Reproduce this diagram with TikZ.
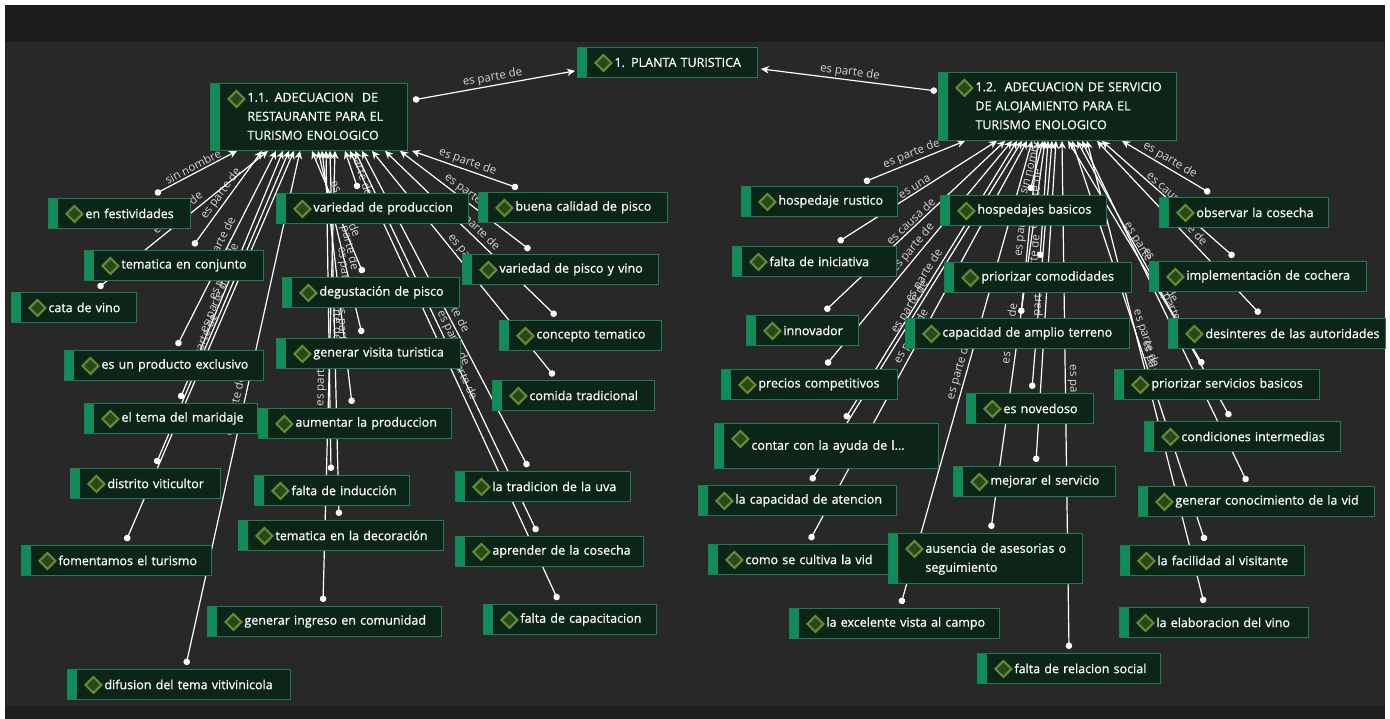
\documentclass[tikz,border=0pt]{standalone}
\usepackage{fontspec}
\setmainfont{Open Sans}
\newfontfamily\ideafont{Open Sans}[FakeBold=0.6]
\usetikzlibrary{arrows.meta}
\pgfdeclarelayer{back}
\pgfdeclarelayer{links}
\pgfsetlayers{back,links,main}
\definecolor{bgmain}{HTML}{282828}
\definecolor{bgband}{HTML}{1C1C1C}
\definecolor{bgfoot}{HTML}{1F1F1F}
\definecolor{ideafill}{HTML}{0D2418}
\definecolor{ideaedge}{HTML}{1E7F4E}
\definecolor{ideabar}{HTML}{0F8C5A}
\definecolor{diaedge}{HTML}{5E8F34}
\definecolor{diafill}{HTML}{2C461A}
\definecolor{lblgray}{HTML}{D6D6D6}
\newcommand{\itm}[1]{\mbox{\hspace{33pt}#1}}
\newcommand{\itmm}[1]{\mbox{\hspace{33pt}\begin{tabular}[t]{@{}l@{}}#1\end{tabular}}}
\tikzset{
idea/.style={
  rectangle,
  anchor=north west,
  draw=ideaedge,
  line width=0.9pt,
  fill=ideafill,
  text=white,
  font=\ideafont\fontsize{12.5}{19}\selectfont,
  inner xsep=4pt,
  inner ysep=4pt,
  minimum height=30pt,
  align=left,
  path picture={
    \fill[ideabar] (path picture bounding box.south west) rectangle ([xshift=10pt]path picture bounding box.north west);
    \draw[draw=diaedge,fill=diafill,line width=2pt] ([shift={(26pt,-15.5pt)}]path picture bounding box.north west)
      +(-8pt,0pt) -- +(0pt,8pt) -- +(8pt,0pt) -- +(0pt,-8pt) -- cycle;
    }
  },
bw/.code={\pgfmathsetmacro\tw{#1-8}\edef\next{\noexpand\pgfkeysalso{text width=\tw pt}}\next},
rel/.style={draw=white,line width=1.2pt,{Circle[length=6.5pt]}-{Stealth[length=8pt,width=7.5pt]}},
lbl/.style={midway,above,sloped,font=\fontsize{11.5}{13}\selectfont,text=lblgray,inner sep=1.5pt}
}
\begin{document}
\begin{tikzpicture}[x=1pt,y=-1pt]
\useasboundingbox (0,0) rectangle (1390,719);
\begin{pgfonlayer}{back}
\fill[white] (0,0) rectangle (1390,719);
\fill[bgmain] (5,5) rectangle (1385,719);
\fill[bgband] (5,5) rectangle (1385,42);
\fill[bgfoot] (5,706) rectangle (1385,719);
\end{pgfonlayer}
% top
\node[idea,bw=180] (root) at (577,47) {\itm{1. PLANTA TURISTICA}};
\node[idea,bw=197,minimum height=67pt] (resta) at (210,83) {\itmm{1.1. ADECUACION\ \ DE\\RESTAURANTE PARA EL\\TURISMO ENOLOGICO}};
\node[idea,bw=238,minimum height=68pt] (aloja) at (938,72) {\itmm{1.2.\ \ ADECUACION DE SERVICIO\\DE ALOJAMIENTO PARA EL\\TURISMO ENOLOGICO}};
% restaurante
\node[idea,bw=142] (fest) at (48,198) {\itm{en festividades}};
\node[idea,bw=179] (tconj) at (84,250) {\itm{tematica en conjunto}};
\node[idea,bw=125] (cata) at (11,292) {\itm{cata de vino}};
\node[idea,bw=199] (exclu) at (64,350) {\itm{es un producto exclusivo}};
\node[idea,bw=173] (marid) at (84,403) {\itm{el tema del maridaje}};
\node[idea,bw=150] (distr) at (70,468) {\itm{distrito viticultor}};
\node[idea,bw=190] (fomen) at (21,545) {\itm{fomentamos el turismo}};
\node[idea,bw=223] (difus) at (67,669) {\itm{difusion del tema vitivinicola}};
\node[idea,bw=192] (vprod) at (276,193) {\itm{variedad de produccion}};
\node[idea,bw=177] (degus) at (282,277) {\itm{degustación de pisco}};
\node[idea,bw=184] (gvisit) at (276,338) {\itm{generar visita turistica}};
\node[idea,bw=193] (aprod) at (258,408) {\itm{aumentar la produccion}};
\node[idea,bw=155] (induc) at (254,475) {\itm{falta de inducción}};
\node[idea,bw=205] (tdeco) at (238,520) {\itm{tematica en la decoración}};
\node[idea,bw=234] (ingreso) at (207,606) {\itm{generar ingreso en comunidad}};
\node[idea,bw=189] (bcalid) at (478,192) {\itm{buena calidad de pisco}};
\node[idea,bw=196] (vpisco) at (462,254) {\itm{variedad de pisco y vino}};
\node[idea,bw=162] (ctema) at (499,320) {\itm{concepto tematico}};
\node[idea,bw=162] (comida) at (492,380) {\itm{comida tradicional}};
\node[idea,bw=175] (tuva) at (455,471) {\itm{la tradicion de la uva}};
\node[idea,bw=188] (acosecha) at (455,536) {\itm{aprender de la cosecha}};
\node[idea,bw=173] (fcapac) at (483,604) {\itm{falta de capacitacion}};
% alojamiento
\node[idea,bw=156] (hrust) at (741,186) {\itm{hospedaje rustico}};
\node[idea,bw=164] (finic) at (732,246) {\itm{falta de iniciativa}};
\node[idea,bw=112] (innov) at (746,315) {\itm{innovador}};
\node[idea,bw=176] (precios) at (721,369) {\itm{precios competitivos}};
\node[idea,bw=224,minimum height=45pt] (ayuda) at (714,423) {\itmm{contar con la ayuda de l...\\ }};
\node[idea,bw=198] (atenc) at (698,485) {\itm{la capacidad de atencion}};
\node[idea,bw=180] (cultiva) at (708,544) {\itm{como se cultiva la vid}};
\node[idea,bw=166] (hbasic) at (940,195) {\itm{hospedajes basicos}};
\node[idea,bw=187] (pcomod) at (944,262) {\itm{priorizar comodidades}};
\node[idea,bw=224] (terreno) at (905,318) {\itm{capacidad de amplio terreno}};
\node[idea,bw=127] (noved) at (966,393) {\itm{es novedoso}};
\node[idea,bw=162] (mserv) at (953,466) {\itm{mejorar el servicio}};
\node[idea,bw=194,minimum height=50pt] (asesor) at (888,533) {\itmm{ausencia de asesorias o\\seguimiento}};
\node[idea,bw=210] (vista) at (789,608) {\itm{la excelente vista al campo}};
\node[idea,bw=183] (rsocial) at (977,653) {\itm{falta de relacion social}};
\node[idea,bw=169] (obscos) at (1159,197) {\itm{observar la cosecha}};
\node[idea,bw=217] (cochera) at (1149,261) {\itm{implementación de cochera}};
\node[idea,bw=217] (desint) at (1168,318) {\itm{desinteres de las autoridades}};
\node[idea,bw=205] (pserv) at (1114,369) {\itm{priorizar servicios basicos}};
\node[idea,bw=196] (cinter) at (1144,421) {\itm{condiciones intermedias}};
\node[idea,bw=236] (gconoc) at (1138,486) {\itm{generar conocimiento de la vid}};
\node[idea,bw=184] (facil) at (1120,545) {\itm{la facilidad al visitante}};
\node[idea,bw=189] (elabor) at (1119,607) {\itm{la elaboracion del vino}};
\begin{pgfonlayer}{links}
\path
([shift={(5,17)}]resta.north east) edge[rel] node[lbl] {es parte de} ([shift={(-2,-7)}]root.south west)
([shift={(-1,19)}]aloja.north west) edge[rel] node[lbl] {es parte de} ([shift={(3,-9)}]root.south east)
;
\foreach \c/\s/\t/\l in {fest/107/27/sin nombre, tconj/109/52/es parte de, cata/87/58/es parte de,
  exclu/113/66/es parte de, marid/96/73/es parte de, distr/86/79/es parte de, fomen/105/84/es parte de,
  difus/119/90/es parte de, vprod/82/135/es parte de, degus/81/102/es parte de, gvisit/86/108/es parte de,
  aprod/94/112/es parte de, induc/77/116/es parte de, tdeco/101/120/es parte de, ingreso/116/125/es parte de,
  bcalid/40/202/es parte de, vpisco/68/190/es parte de, ctema/57/175/es parte de, comida/62/162/es parte de,
  tuva/73/152/es parte de, acosecha/82/145/es parte de, fcapac/75/140/es parte de}
  \path ([shift={(\s,-4)}]\c.north west) edge[rel] node[lbl] {\l} ([xshift=\t pt]resta.south west);
\foreach \c/\s/\t/\l in {hrust/123/27/es parte de, finic/106/59/es una, innov/79/67/es causa de,
  precios/105/74/es parte de, ayuda/131/79/es parte de, atenc/113/84/es parte de, cultiva/102/89/es parte de,
  vista/112/94/es parte de, terreno/116/100/es parte de, hbasic/90/105/sin nombre, asesor/103/107/es parte de,
  pcomod/96/110/es parte de, noved/66/114/es parte de, mserv/83/118/es parte de, rsocial/92/124/es parte de,
  facil/85/134/es parte de, pserv/89/130/es parte de, cinter/86/139/es parte de, gconoc/109/144/es parte de,
  elabor/85/149/es parte de, desint/92/159/es parte de, cochera/85/164/es causa de, obscos/51/184/es parte de}
  \path ([shift={(\s,-4)}]\c.north west) edge[rel] node[lbl] {\l} ([xshift=\t pt]aloja.south west);
\end{pgfonlayer}
\end{tikzpicture}
\end{document}
